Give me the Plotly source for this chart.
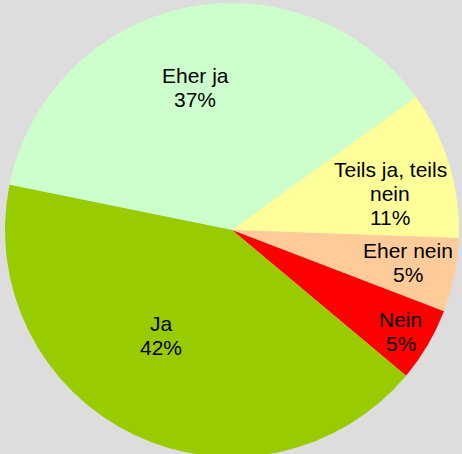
import math
import plotly.graph_objects as go

# answers, in the order the slices run clockwise
categories = ["Eher ja", "Teils ja, teils nein", "Eher nein", "Nein", "Ja"]
counts = [35, 10, 5, 5, 40]
text_labels = ["Eher ja", "Teils ja, teils<br>nein", "Eher nein", "Nein", "Ja"]

colors = ["#ccffcc", "#ffff99", "#ffcc99", "#ff0000", "#99cc00"]

W, H = 462, 458
margin = dict(l=0, r=0, t=3, b=1)
dom_x = [0.0043, 1.0]
rotation = -78.5

# where Excel put each label: fraction of the radius, small angle nudge (deg)
label_r = [0.647, 0.716, 0.789, 0.868, 0.562]
label_nudge = [-2.4, 4.1, -0.9, 0.5, 8.1]
font_size = 21
line_gap = 24  # px between text lines, tighter than plotly's own <br>

fig = go.Figure()
fig.add_trace(go.Pie(
    labels=categories,
    values=counts,
    sort=False,
    direction='clockwise',
    rotation=rotation,
    marker=dict(colors=colors, line=dict(width=0)),
    textinfo='none',
    hoverinfo='label+percent',
    domain=dict(x=dom_x, y=[0, 1]),
    showlegend=False,
))

# label positions derived from the slice angles
pw = W - margin['l'] - margin['r']
ph = H - margin['t'] - margin['b']
R = min(pw * (dom_x[1] - dom_x[0]), ph) / 2
cx = (dom_x[0] + dom_x[1]) / 2
cy = 0.5
total = sum(counts)
cum = 0
for i, v in enumerate(counts):
    mid = rotation + (cum + v / 2) / total * 360 + label_nudge[i]
    cum += v
    a = math.radians(mid)
    pct = round(100 * v / total)
    x0 = cx + label_r[i] * R * math.sin(a) / pw
    y0 = cy + label_r[i] * R * math.cos(a) / ph
    lines = text_labels[i].split("<br>") + [f"{pct}%"]
    n = len(lines)
    for k, line in enumerate(lines):
        fig.add_annotation(
            x=x0,
            y=y0 + ((n - 1) / 2 - k) * line_gap / ph,
            xref='paper', yref='paper',
            text=line,
            showarrow=False,
            xanchor='center', yanchor='middle',
            font=dict(family='Liberation Sans, Arial, sans-serif', size=font_size, color='black'),
        )

fig.update_layout(
    width=W,
    height=H,
    margin=margin,
    paper_bgcolor='#dddddd',
    plot_bgcolor='#dddddd',
)

# page without the default body margin, grey like the chart
fig.write_html("out.html", config={'displayModeBar': False}, post_script=(
    "document.body.style.margin='0';"
    "document.body.style.overflow='hidden';"
    "document.body.style.background='#dddddd';"
))
